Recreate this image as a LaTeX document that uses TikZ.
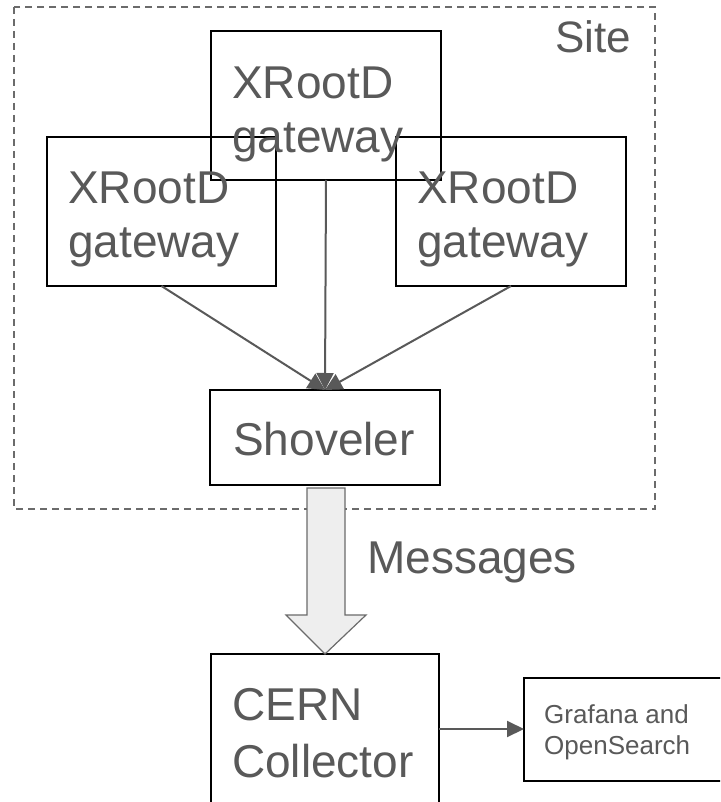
\documentclass[tikz,border=0pt]{standalone}
\usepackage{fontspec}
\setmainfont{Liberation Sans}
\usetikzlibrary{arrows.meta}
\definecolor{txt}{HTML}{595959}
\definecolor{conn}{HTML}{595959}
\definecolor{dashc}{HTML}{6B6B6B}
\definecolor{fatfill}{HTML}{EEEEEE}
\tikzset{
  box/.style={draw=black, line width=1.5pt, inner sep=0pt, outer sep=0pt, anchor=north west},
  bigtxt/.style={anchor=base west, inner sep=0pt, text=txt, font=\fontsize{46}{54}\selectfont, align=left},
  smalltxt/.style={anchor=base west, inner sep=0pt, text=txt, font=\fontsize{26}{31}\selectfont, align=left},
  conn/.style={draw=conn, line width=2pt, -{Triangle[length=17pt,width=17pt]}},
  sitebox/.style={draw=dashc, line width=1.5pt, dash pattern=on 7pt off 5pt},
  fat/.style={draw=dashc, line width=1.2pt, fill=fatfill, line join=miter}
}
\begin{document}
\begin{tikzpicture}[x=1pt,y=-1pt]
\clip (0,0) rectangle (720,802);
\fill[white] (0,0) rectangle (720,802);
% site boundary
\draw[sitebox] (14,7) rectangle (655,509);
\node[anchor=base west, inner sep=0pt, text=txt, font=\fontsize{44}{52}\selectfont] (site) at (555,53) {Site};
% gateways
\node[box, minimum width=230pt, minimum height=149pt] (gwT) at (211,31) {};
\node[box, minimum width=229pt, minimum height=149pt] (gwL) at (47,137) {};
\node[box, minimum width=230pt, minimum height=149pt] (gwR) at (396,137) {};
\node[bigtxt] (gwTt) at (232,153) {XRootD\\gateway};
\node[bigtxt] (gwLt) at (68,257) {XRootD\\gateway};
\node[bigtxt] (gwRt) at (417,257) {XRootD\\gateway};
% shoveler
\node[box, minimum width=230pt, minimum height=95pt] (sh) at (210,390) {};
\node[bigtxt] (sht) at (233,455) {Shoveler};
% connectors to shoveler
\draw[conn] (gwL.south) -- (sh.north);
\draw[conn] (gwT.south) -- (sh.north);
\draw[conn] (gwR.south) -- (sh.north);
% CERN collector
\node[box, minimum width=228pt, minimum height=170pt] (cern) at (211,654) {};
\node[bigtxt, font=\fontsize{46}{57}\selectfont] (cernt) at (232,777) {CERN\\Collector};
% fat arrow
\draw[fat] (307,488) -- (345,488) -- (345,615) -- (366,615) -- (cern.north) -- (286,615) -- (307,615) -- cycle;
\node[bigtxt] (msg) at (367,573) {Messages};
% grafana
\node[box, minimum width=210pt, minimum height=103pt] (graf) at (524,678) {};
\node[smalltxt] (graft) at (544,754) {Grafana and\\OpenSearch};
\draw[conn, -{Triangle[length=17pt,width=16pt]}] (cern.east |- 0,729) coordinate (ce) -- (graf.west |- ce);
\end{tikzpicture}
\end{document}
